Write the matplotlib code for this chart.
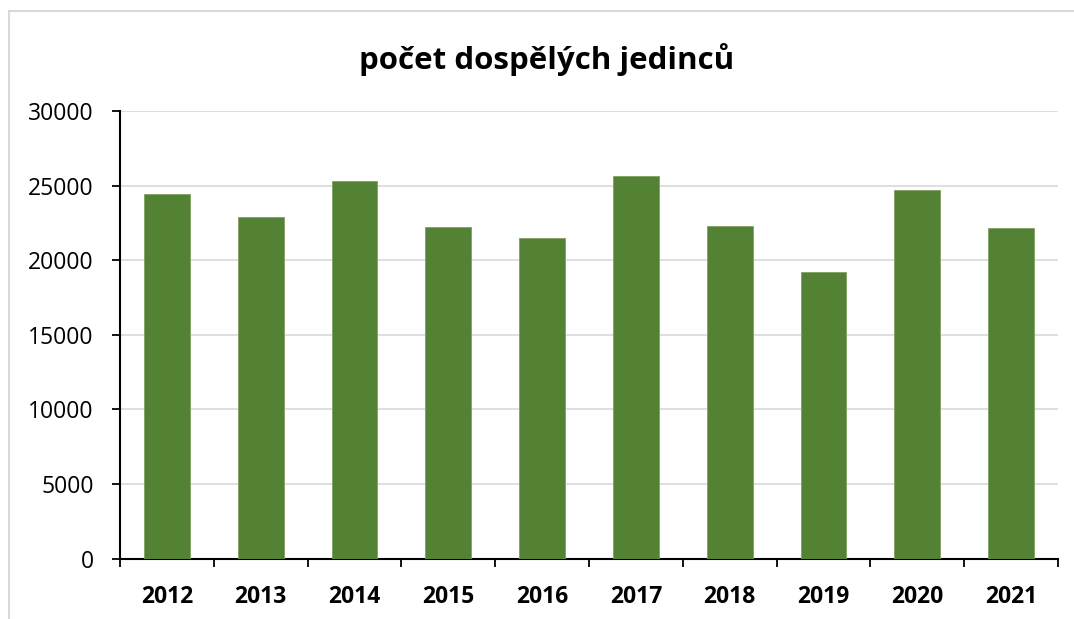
import matplotlib
matplotlib.use("Agg")
import matplotlib.pyplot as plt
from matplotlib.lines import Line2D

years = ["2012", "2013", "2014", "2015", "2016", "2017", "2018", "2019", "2020", "2021"]
values = [24430, 22870, 25330, 22220, 21500, 25620, 22310, 19200, 24680, 22130]
yticks = [0, 5000, 10000, 15000, 20000, 25000, 30000]
title = "počet dospělých jedinců"

plt.rcParams['font.family'] = ['Open Sans', 'DejaVu Sans']

W, H = 1074, 619
fig = plt.figure(figsize=(W / 100, H / 100), dpi=100)
ax = fig.add_axes([120 / W, 1 - 558.5 / H, (1058 - 120) / W, (558.5 - 111) / H])

x = list(range(len(years)))
ax.bar(x, values, width=0.49, color="#548235", edgecolor="#7fa060", linewidth=0.6, zorder=3)

ax.set_xlim(-0.5, len(years) - 0.5)
ax.set_ylim(0, 30000)
ax.set_yticks(yticks)
ax.set_yticklabels([str(v) for v in yticks], fontsize=16.5)
ax.yaxis.grid(True, color="#d9d9d9", linewidth=1.2, zorder=0)

ax.set_xticks(x)
ax.set_xticklabels(years, fontsize=16.5, fontweight="bold")
ax.set_xticks([i - 0.5 for i in range(len(years) + 1)], minor=True)
ax.tick_params(axis="x", which="major", length=0, pad=19)
ax.tick_params(axis="x", which="minor", length=6, width=1.3, color="black", direction="out")
ax.tick_params(axis="y", length=6, width=1.3, color="black", direction="out", pad=13)

for s in ["top", "right"]:
    ax.spines[s].set_visible(False)
for s in ["left", "bottom"]:
    ax.spines[s].set_linewidth(1.5)
    ax.spines[s].set_color("black")

fig.text(547 / W, 1 - 59 / H, title, ha="center", va="center", fontsize=22.5, fontweight="bold")

fig.add_artist(Line2D([8.5 / W, 8.5 / W], [1 - 10.5 / H, 0], color="#d9d9d9", linewidth=1.5, transform=fig.transFigure))
fig.add_artist(Line2D([8.5 / W, 1], [1 - 10.5 / H, 1 - 10.5 / H], color="#d9d9d9", linewidth=1.5, transform=fig.transFigure))

fig.savefig("out.png", dpi=100)
